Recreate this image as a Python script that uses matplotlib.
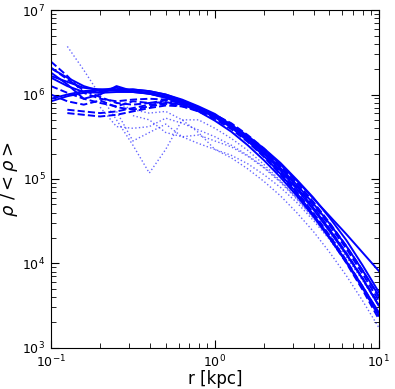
import numpy as np
import matplotlib
matplotlib.use("Agg")
import matplotlib.pyplot as plt

# radii grid (log10 r [kpc]) shared by all profiles
log_r = [-1.0, -0.9, -0.8, -0.7, -0.6, -0.5, -0.4, -0.3, -0.2, -0.1, 0.0,
         0.1, 0.2, 0.3, 0.4, 0.5, 0.6, 0.7, 0.8, 0.9, 1.0]
nan = float("nan")

# log10(rho/<rho>) profiles
solid_profiles = [
    [6.22, 6.15, 6.08, 6.06, 6.06, 6.06, 6.04, 6.00, 5.94, 5.86, 5.77, 5.64, 5.50, 5.34, 5.17, 4.98, 4.77, 4.56, 4.35, 4.13, 3.91],
    [6.31, 6.20, 6.10, 6.04, 6.05, 6.06, 6.04, 6.00, 5.93, 5.85, 5.75, 5.63, 5.48, 5.31, 5.13, 4.93, 4.71, 4.47, 4.21, 3.92, 3.62],
    [6.26, 6.12, 5.95, 6.00, 6.10, 6.04, 6.02, 5.98, 5.92, 5.84, 5.74, 5.62, 5.47, 5.30, 5.10, 4.88, 4.64, 4.38, 4.11, 3.82, 3.50],
    [5.95, 6.00, 6.04, 6.06, 6.05, 6.03, 6.01, 5.97, 5.91, 5.83, 5.73, 5.61, 5.45, 5.27, 5.06, 4.83, 4.58, 4.31, 4.03, 3.73, 3.42],
    [5.92, 5.98, 6.02, 6.05, 6.08, 6.04, 6.01, 5.96, 5.89, 5.80, 5.69, 5.56, 5.40, 5.22, 5.02, 4.80, 4.56, 4.30, 4.02, 3.71, 3.38],
    [6.20, 6.10, 6.03, 6.02, 6.03, 6.03, 6.01, 5.97, 5.91, 5.84, 5.75, 5.64, 5.51, 5.36, 5.19, 4.99, 4.78, 4.54, 4.28, 3.98, 3.66],
]
dashed_profiles = [
    [6.39, 6.22, 6.02, 5.95, 5.92, 5.94, 5.95, 5.94, 5.90, 5.84, 5.76, 5.65, 5.51, 5.34, 5.15, 4.93, 4.70, 4.45, 4.18, 3.88, 3.56],
    [6.32, 6.18, 6.05, 5.97, 5.90, 5.88, 5.90, 5.91, 5.88, 5.82, 5.74, 5.63, 5.49, 5.32, 5.12, 4.90, 4.66, 4.40, 4.12, 3.82, 3.50],
    [nan, 5.82, 5.80, 5.78, 5.80, 5.84, 5.88, 5.90, 5.88, 5.83, 5.75, 5.64, 5.50, 5.33, 5.13, 4.91, 4.67, 4.41, 4.13, 3.83, 3.52],
    [nan, 5.78, 5.76, 5.74, 5.76, 5.80, 5.84, 5.87, 5.86, 5.81, 5.73, 5.62, 5.47, 5.29, 5.08, 4.85, 4.60, 4.33, 4.04, 3.73, 3.40],
    [6.10, 6.02, 5.95, 5.90, 5.86, 5.92, 5.90, 5.93, 5.90, 5.84, 5.76, 5.66, 5.52, 5.36, 5.17, 4.96, 4.73, 4.48, 4.21, 3.92, 3.60],
    [6.00, 5.92, 5.88, 5.93, 5.85, 5.82, 5.86, 5.89, 5.86, 5.80, 5.71, 5.59, 5.44, 5.26, 5.05, 4.82, 4.57, 4.30, 4.01, 3.69, 3.34],
]
dotted_profiles = [
    [nan, 6.57, 6.29, 5.99, 5.70, 5.40, 5.07, 5.35, 5.70, 5.70, 5.60, 5.48, 5.34, 5.17, 4.98, 4.77, 4.54, 4.29, 4.02, 3.73, 3.42],
    [nan, nan, nan, 5.85, 5.62, 5.60, 5.62, 5.72, 5.66, 5.58, 5.50, 5.40, 5.28, 5.14, 4.97, 4.78, 4.57, 4.34, 4.08, 3.80, 3.50],
    [nan, nan, nan, nan, 5.80, 5.45, 5.55, 5.65, 5.50, 5.42, 5.35, 5.28, 5.18, 5.05, 4.90, 4.72, 4.51, 4.28, 4.02, 3.73, 3.40],
    [nan, nan, nan, nan, nan, 5.75, 5.70, 5.55, 5.50, 5.52, 5.45, 5.38, 5.27, 5.13, 4.96, 4.76, 4.54, 4.29, 4.01, 3.70, 3.36],
    [nan, nan, nan, nan, 5.90, 5.82, 5.78, 5.80, 5.70, 5.55, 5.35, 5.25, 5.12, 4.97, 4.80, 4.60, 4.38, 4.13, 3.86, 3.56, 3.24],
]

r = 10.0 ** np.array(log_r)

fig = plt.figure(figsize=(3.95, 3.89), dpi=100)
ax = fig.add_axes([0.129, 0.106, 0.830, 0.868])

for prof in dotted_profiles:
    ax.plot(r, 10.0 ** np.array(prof), color="#0000ff", ls=":", lw=1.0, alpha=0.6)
for prof in dashed_profiles:
    ax.plot(r, 10.0 ** np.array(prof), color="#0000ff", ls="--", lw=1.4)
for prof in solid_profiles:
    ax.plot(r, 10.0 ** np.array(prof), color="#0000ff", ls="-", lw=1.4)

ax.set_xscale("log")
ax.set_yscale("log")
ax.set_xlim(0.1, 10)
ax.set_ylim(1e3, 1e7)
ax.tick_params(which="both", direction="in", top=True, right=True, labelsize=9)
ax.tick_params(which="major", length=6, width=0.8)
ax.tick_params(which="minor", length=3.5, width=0.6)
ax.tick_params(axis="x", which="major", pad=4.5)
ax.tick_params(axis="y", which="major", pad=4)
ax.set_xlabel("r [kpc]", fontsize=12, va="bottom")
ax.xaxis.set_label_coords(0.5, -0.119)
ax.set_ylabel(r"$\rho\ /<\rho>$", fontsize=13, labelpad=2)

fig.savefig("out.png", dpi=100)
